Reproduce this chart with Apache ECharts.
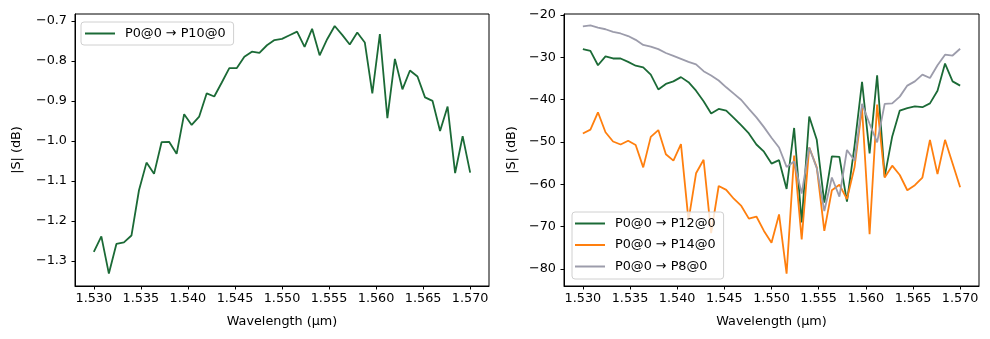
<!DOCTYPE html>
<html>
<head>
<meta charset="utf-8">
<script src="https://cdn.jsdelivr.net/npm/echarts@6/dist/echarts.min.js"></script>
<style>
  html, body { margin: 0; padding: 0; background: #fff; }
  #chart { width: 990px; height: 339px; }
</style>
</head>
<body>
<div id="chart"></div>
<script>
// Wavelength samples (µm)
const wavelength = [
  1.5300, 1.5308, 1.5316, 1.5324, 1.5332, 1.5340, 1.5348, 1.5356, 1.5364, 1.5372,
  1.5380, 1.5388, 1.5396, 1.5404, 1.5412, 1.5420, 1.5428, 1.5436, 1.5444, 1.5452,
  1.5460, 1.5468, 1.5476, 1.5484, 1.5492, 1.5500, 1.5508, 1.5516, 1.5524, 1.5532,
  1.5540, 1.5548, 1.5556, 1.5564, 1.5572, 1.5580, 1.5588, 1.5596, 1.5604, 1.5612,
  1.5620, 1.5628, 1.5636, 1.5644, 1.5652, 1.5660, 1.5668, 1.5676, 1.5684, 1.5692,
  1.5700
];

// |S| in dB, through port P10
const sP10 = [
  -1.277, -1.238, -1.331, -1.257, -1.253, -1.236, -1.123, -1.054, -1.082, -1.003,
  -1.002, -1.032, -0.933, -0.960, -0.939, -0.881, -0.889, -0.854, -0.818, -0.818,
  -0.790, -0.777, -0.780, -0.761, -0.748, -0.745, -0.736, -0.727, -0.765, -0.720,
  -0.786, -0.746, -0.713, -0.735, -0.759, -0.729, -0.754, -0.881, -0.733, -0.943,
  -0.795, -0.871, -0.824, -0.839, -0.891, -0.900, -0.975, -0.914, -1.080, -0.988,
  -1.079
];

// |S| in dB, crosstalk ports
const sP12 = [
  -28.1, -28.5, -31.9, -29.8, -30.3, -30.3, -31.1, -32.0, -32.4, -34.1,
  -37.6, -36.3, -35.7, -34.7, -35.9, -37.9, -40.4, -43.3, -42.2, -42.6,
  -44.3, -46.1, -48.0, -50.6, -52.3, -55.1, -54.3, -61.1, -46.7, -69.0,
  -44.0, -49.5, -64.3, -53.4, -53.5, -64.1, -51.0, -35.8, -52.7, -34.3,
  -58.2, -48.7, -42.6, -42.0, -41.6, -41.8, -40.9, -37.9, -31.5, -35.7,
  -36.7
];
const sP14 = [
  -48.0, -47.1, -43.0, -47.7, -49.9, -50.6, -49.7, -50.7, -56.0, -48.8,
  -47.2, -52.9, -54.4, -50.5, -68.5, -57.4, -54.2, -71.5, -60.4, -61.3,
  -63.4, -65.1, -68.1, -67.6, -71.0, -73.8, -67.1, -81.1, -53.2, -73.0,
  -51.3, -56.0, -71.0, -61.4, -60.1, -63.5, -56.0, -42.0, -71.8, -41.2,
  -58.4, -55.6, -57.8, -61.4, -60.2, -58.4, -49.5, -57.6, -49.5, -55.1,
  -60.7
];
const sP8 = [
  -22.7, -22.5, -23.0, -23.4, -24.0, -24.4, -25.0, -25.9, -27.1, -27.5,
  -28.1, -29.0, -29.7, -30.4, -31.1, -31.7, -33.3, -34.3, -35.5, -37.1,
  -38.6, -40.1, -42.2, -44.2, -46.5, -49.0, -51.3, -55.9, -54.6, -62.2,
  -51.3, -56.2, -66.3, -58.4, -62.9, -51.9, -54.4, -41.0, -45.7, -50.1,
  -41.0, -40.9, -39.3, -36.7, -35.7, -34.1, -34.9, -31.9, -29.4, -29.6,
  -28.0
];

// Tick positions
const xTicks = [1.530, 1.535, 1.540, 1.545, 1.550, 1.555, 1.560, 1.565, 1.570];
const yTicksLeft = [-1.3, -1.2, -1.1, -1.0, -0.9, -0.8, -0.7];
const yTicksRight = [-80, -70, -60, -50, -40, -30, -20];

const names = {
  p10: 'P0@0 \u2192 P10@0',
  p12: 'P0@0 \u2192 P12@0',
  p14: 'P0@0 \u2192 P14@0',
  p8:  'P0@0 \u2192 P8@0'
};

const FONT = "'DejaVu Sans', sans-serif";
const FS = 12.8;
const minus = s => s.replace('-', '\u2212');

function pairs(ys) { return wavelength.map((x, i) => [x, ys[i]]); }

function xAxisCfg(gridIndex) {
  return {
    type: 'value', gridIndex, min: 1.528, max: 1.572,
    name: 'Wavelength (\u00b5m)', nameLocation: 'middle', nameGap: 29,
    nameTextStyle: { fontFamily: FONT, fontSize: FS, color: '#000' },
    axisLine: { show: true, onZero: false, lineStyle: { color: '#000', width: 1 } },
    axisTick: { show: true, inside: false, length: 3.5, customValues: xTicks, lineStyle: { color: '#000' } },
    axisLabel: { show: true, margin: 6, customValues: xTicks, color: '#000', fontFamily: FONT, fontSize: FS,
                 formatter: v => v.toFixed(3) },
    splitLine: { show: false }
  };
}

function yAxisCfg(gridIndex, min, max, ticks, fmt, gap) {
  return {
    type: 'value', gridIndex, min, max,
    name: '|S| (dB)', nameLocation: 'middle', nameGap: gap,
    nameTextStyle: { fontFamily: FONT, fontSize: FS, color: '#000' },
    axisLine: { show: true, onZero: false, lineStyle: { color: '#000', width: 1 } },
    axisTick: { show: true, inside: false, length: 3.5, customValues: ticks, lineStyle: { color: '#000' } },
    axisLabel: { show: true, margin: 8, customValues: ticks, color: '#000', fontFamily: FONT, fontSize: FS,
                 formatter: v => minus(fmt(v)) },
    splitLine: { show: false }
  };
}

function lineSeries(name, data, color, xi, yi) {
  return {
    type: 'line', name, xAxisIndex: xi, yAxisIndex: yi, data: pairs(data),
    showSymbol: false, symbol: 'none', animation: false,
    lineStyle: { color, width: 1.8 }, itemStyle: { color }
  };
}

const legendBase = {
  icon: 'rect', itemWidth: 30, itemHeight: 2,
  backgroundColor: 'rgba(255,255,255,0.8)', borderColor: '#d0d0d0', borderWidth: 1, borderRadius: 3,
  textStyle: { fontFamily: FONT, fontSize: FS, color: '#000', lineHeight: 15, padding: [0, 0, 0, 5] }
};

const chart = echarts.init(document.getElementById('chart'), null, { renderer: 'canvas' });
chart.setOption({
  backgroundColor: '#fff',
  animation: false,
  grid: [
    { left: 75, top: 14, width: 414, height: 272, show: true, borderColor: '#000', borderWidth: 1, backgroundColor: 'transparent' },
    { left: 564, top: 14, width: 415, height: 272, show: true, borderColor: '#000', borderWidth: 1, backgroundColor: 'transparent' }
  ],
  xAxis: [xAxisCfg(0), xAxisCfg(1)],
  yAxis: [
    yAxisCfg(0, -1.362, -0.683, yTicksLeft, v => v.toFixed(1), 52),
    yAxisCfg(1, -84.0, -19.8, yTicksRight, v => v.toFixed(0), 46)
  ],
  legend: [
    Object.assign({}, legendBase, {
      data: [names.p10], left: 81, top: 22, padding: [4, 8, 4, 4]
    }),
    Object.assign({}, legendBase, {
      data: [names.p12, names.p14, names.p8], orient: 'vertical', left: 572, top: 212,
      itemGap: 6.5, padding: [4, 8, 5, 3]
    })
  ],
  series: [
    lineSeries(names.p10, sP10, '#1b6a36', 0, 0),
    lineSeries(names.p12, sP12, '#1b6a36', 1, 1),
    lineSeries(names.p14, sP14, '#ff7f0e', 1, 1),
    lineSeries(names.p8, sP8, '#9c9cab', 1, 1)
  ]
});
</script>
</body>
</html>
